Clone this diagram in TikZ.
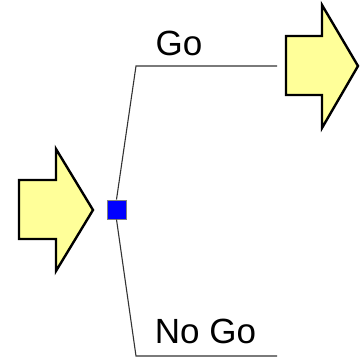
\documentclass[tikz,border=0pt]{standalone}
\usepackage{fontspec}
\setmainfont{Liberation Sans}
\usetikzlibrary{positioning}
\definecolor{arrowfill}{HTML}{FFFF99}
\definecolor{knot}{HTML}{0000FF}
\definecolor{branch}{HTML}{333333}

\begin{document}
\begin{tikzpicture}[x=1pt,y=-1pt,
  bigarrow/.style={fill=arrowfill,draw=black,line width=2.4pt,line join=miter},
  knotbox/.style={fill=knot,draw=gray,line width=1pt,minimum size=19pt,inner sep=0pt},
  branchline/.style={draw=branch,line width=1.1pt},
  label/.style={font=\fontsize{35}{40}\selectfont,anchor=base}]
  \useasboundingbox (0,0) rectangle (360,361);

  % Incoming arrow
  \draw[bigarrow] (19,180) -- (56,180) -- (56,149) -- (93,210) -- (56,271)
    -- (56,239) -- (19,239) -- cycle;

  % Decision point
  \node[knotbox] (knot) at (116.5,209.5) {};

  % Go branch
  \coordinate (gobend) at (136,66);
  \coordinate (goend) at (277,66);
  \draw[branchline] (knot.north) -- (gobend) -- (goend);
  \node[label] (golabel) at (179,56) {Go};

  % No Go branch
  \coordinate (nogobend) at (136,356);
  \coordinate (nogoend) at (277,356);
  \draw[branchline] (knot.south) -- (nogobend) -- (nogoend);
  \node[label] (nogolabel) at (205.5,343) {No Go};

  % Outgoing arrow
  \draw[bigarrow] (286,36) -- (322,36) -- (322,5) -- (358,66) -- (322,128)
    -- (322,95) -- (286,95) -- cycle;
\end{tikzpicture}
\end{document}
